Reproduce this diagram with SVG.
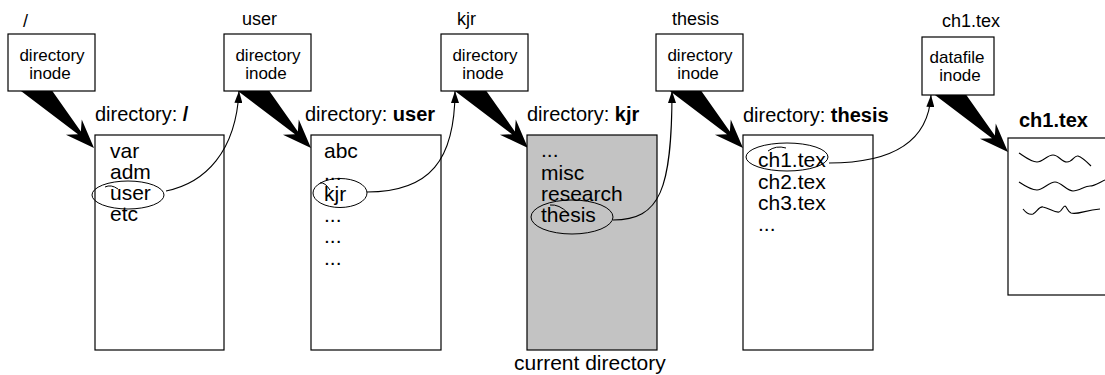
<svg xmlns="http://www.w3.org/2000/svg" width="1105" height="375" viewBox="0 0 1105 375">
  <style>
    text { font-family: "Liberation Sans", Arial, Helvetica, sans-serif; fill: #000; }
    .lbl { font-size: 18px; }
    .ino { font-size: 17px; text-anchor: middle; }
    .hdr { font-size: 20px; }
    .ent { font-size: 21px; }
    .b { font-weight: bold; }
    .box { fill: #fff; stroke: #000; stroke-width: 1.2; }
    .cur { fill: #c3c3c3; stroke: #000; stroke-width: 1.2; }
    .loop { fill: none; stroke: #000; stroke-width: 1; }
    .link { fill: none; stroke: #000; stroke-width: 1.1; marker-end: url(#head); }
    .wave { fill: none; stroke: #000; stroke-width: 1.1; }
  </style>
  <defs>
    <marker id="head" markerWidth="12" markerHeight="8" refX="12" refY="4" orient="auto" markerUnits="userSpaceOnUse">
      <path d="M0,0 L12,4 L0,8 z" fill="#000"/>
    </marker>
    <!-- tapered pointer from an inode to its data block, tip at the origin -->
    <polygon id="wedge" points="0,0 -29,-11 -21,-2 -95,-13.5 -95,13.5 -21,2 -29,11" fill="#000" transform="rotate(46)"/>
  </defs>

  <!-- inode-to-data pointers (drawn first, their tails hide under the inode boxes) -->
  <g id="pointers">
    <use href="#wedge" transform="translate(94,148)"/>
    <use href="#wedge" transform="translate(311,148)"/>
    <use href="#wedge" transform="translate(528,148)"/>
    <use href="#wedge" transform="translate(743,148)"/>
    <use href="#wedge" transform="translate(1008,152)"/>
  </g>

  <!-- root -->
  <g id="inode-root">
    <text class="lbl" x="23" y="27">/</text>
    <rect class="box" x="8" y="34" width="87" height="57"/>
    <text class="ino" x="52" y="61">directory</text>
    <text class="ino" x="50" y="79">inode</text>
  </g>
  <g id="dir-root">
    <text class="hdr" x="95" y="121">directory:  <tspan class="b">/</tspan></text>
    <rect class="box" x="95" y="135" width="129" height="215"/>
    <text class="ent" x="110" y="158">var</text>
    <text class="ent" x="110" y="179">adm</text>
    <text class="ent" x="110" y="200">user</text>
    <text class="ent" x="110" y="221">etc</text>
    <ellipse class="loop" cx="128" cy="195" rx="36" ry="14"/>
    <path class="loop" d="M105,187 Q111,184 118,189"/>
  </g>

  <!-- user -->
  <g id="inode-user">
    <text class="lbl" x="242" y="25">user</text>
    <rect class="box" x="224" y="34" width="87" height="57"/>
    <text class="ino" x="268" y="61">directory</text>
    <text class="ino" x="266" y="79">inode</text>
  </g>
  <g id="dir-user">
    <text class="hdr" x="305" y="121">directory: <tspan class="b">user</tspan></text>
    <rect class="box" x="311" y="135" width="130" height="215"/>
    <text class="ent" x="324" y="158">abc</text>
    <text class="ent" x="324" y="180">...</text>
    <text class="ent" x="324" y="201">kjr</text>
    <text class="ent" x="324" y="222">...</text>
    <text class="ent" x="324" y="243">...</text>
    <text class="ent" x="324" y="265">...</text>
    <ellipse class="loop" cx="340" cy="193" rx="27" ry="14.5"/>
    <path class="loop" d="M320,183 Q325,182 330,190"/>
  </g>

  <!-- kjr, the current directory -->
  <g id="inode-kjr">
    <text class="lbl" x="457" y="25">kjr</text>
    <rect class="box" x="441" y="34" width="87" height="57"/>
    <text class="ino" x="485" y="61">directory</text>
    <text class="ino" x="483" y="79">inode</text>
  </g>
  <g id="dir-kjr">
    <text class="hdr" x="527" y="121">directory:  <tspan class="b">kjr</tspan></text>
    <rect class="cur" x="527" y="135" width="130" height="215"/>
    <text class="ent" x="541" y="157">...</text>
    <text class="ent" x="541" y="180">misc</text>
    <text class="ent" x="541" y="201">research</text>
    <text class="ent" x="541" y="222">thesis</text>
    <ellipse class="loop" cx="572" cy="217" rx="41" ry="17"/>
    <path class="loop" d="M550,205 Q559,204 568,213"/>
    <text class="ent" x="514" y="370">current directory</text>
  </g>

  <!-- thesis -->
  <g id="inode-thesis">
    <text class="lbl" x="672" y="25">thesis</text>
    <rect class="box" x="656" y="34" width="87" height="57"/>
    <text class="ino" x="700" y="61">directory</text>
    <text class="ino" x="698" y="79">inode</text>
  </g>
  <g id="dir-thesis">
    <text class="hdr" x="743" y="122">directory:  <tspan class="b">thesis</tspan></text>
    <rect class="box" x="743" y="135" width="130" height="215"/>
    <text class="ent" x="758" y="167">ch1.tex</text>
    <text class="ent" x="758" y="189">ch2.tex</text>
    <text class="ent" x="758" y="210">ch3.tex</text>
    <text class="ent" x="758" y="231">...</text>
    <ellipse class="loop" cx="787" cy="157" rx="41" ry="14"/>
    <path class="loop" d="M768,151 Q776,145 786,148"/>
  </g>

  <!-- ch1.tex -->
  <g id="inode-ch1">
    <text class="lbl" x="942" y="27">ch1.tex</text>
    <rect class="box" x="922" y="37" width="72" height="58"/>
    <text class="ino" x="957" y="63">datafile</text>
    <text class="ino" x="960" y="81">inode</text>
  </g>
  <g id="file-ch1">
    <text class="hdr b" x="1019" y="127">ch1.tex</text>
    <rect class="box" x="1008" y="138" width="110" height="157"/>
    <path class="wave" d="M1019,153 C1025,157 1031,162 1037,162 S1047,155 1053,155 S1061,162 1067,162 S1074,155 1078,156 S1087,162 1091,166"/>
    <path class="wave" d="M1019,182 C1025,186 1031,190 1037,190 S1049,182 1055,182 S1067,191 1073,191 S1085,186 1090,186 S1100,182 1105,180"/>
    <path class="wave" d="M1023,209 C1027,214 1030,215 1033,214 C1037,212 1039,206 1043,207 C1049,208 1055,213 1059,212 C1062,211 1063,206 1065,206 C1067,207 1068,212 1071,213 C1078,215 1085,210 1100,209"/>
  </g>

  <!-- directory-entry links back up to the next inode -->
  <g id="connectors">
    <path class="link" d="M166,191 C205,183 236,152 239,91"/>
    <path class="link" d="M367,192 C430,192 455,160 455,91"/>
    <path class="link" d="M613,220 C660,220 672,190 672,91"/>
    <path class="link" d="M829,163 C880,163 928,150 931,95"/>
  </g>
</svg>
